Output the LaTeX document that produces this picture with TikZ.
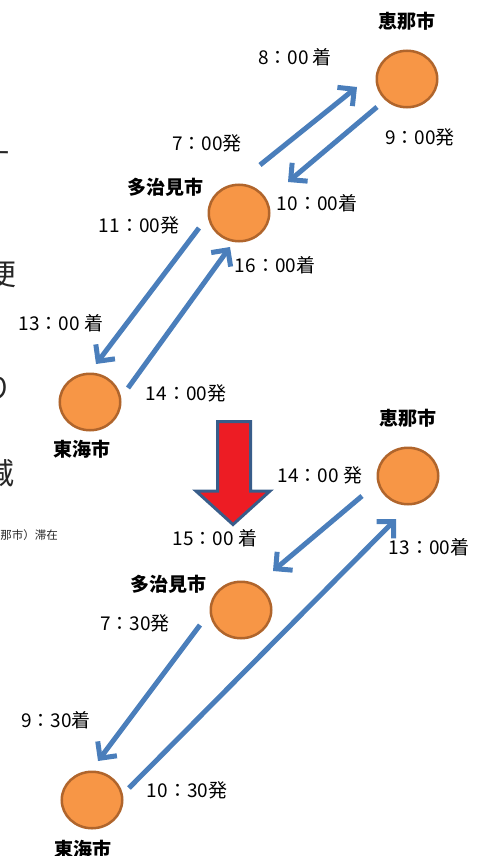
\documentclass[tikz,border=0pt]{standalone}
\usepackage{fontspec}
\newfontfamily\jp{Noto Sans CJK JP}
\usetikzlibrary{arrows.meta,shapes.geometric}
\definecolor{routeblue}{HTML}{4A7EBB}
\definecolor{stfill}{HTML}{F79646}
\definecolor{stborder}{HTML}{B0652C}
\definecolor{bigred}{HTML}{ED1C24}
\definecolor{bignavy}{HTML}{385D8A}
\begin{document}
\begin{tikzpicture}[x=1pt,y=-1pt,
  station/.style={ellipse, draw=stborder, line width=2.5pt, fill=stfill,
    minimum width=60.5pt, minimum height=56.5pt, inner sep=0pt},
  cityname/.style={font=\jp\bfseries\fontsize{19}{19}\selectfont, inner sep=0pt},
  timelbl/.style={font=\jp\fontsize{19}{19}\selectfont, inner sep=0pt},
  sidetext/.style={font=\jp\fontsize{30}{30}\selectfont, inner sep=0pt, anchor=east, text=black!85},
  smalltext/.style={font=\jp\fontsize{11.5}{11.5}\selectfont, inner sep=0pt, anchor=east, text=black!85},
  route/.style={draw=routeblue, line width=5pt, -{Straight Barb[length=12pt,width=24pt]}},
  downarrow/.style={draw=bignavy, line width=3pt, fill=bigred, line join=miter}
]
\useasboundingbox (0,0) rectangle (485,856);

% cut-off text at the left edge
\node[sidetext] (s1) at (11,160) {す};
\node[sidetext] (s2) at (17,274) {便};
\node[sidetext] (s3) at (13,388) {り};
\node[sidetext] (s4) at (15,473) {減};
\node[smalltext] (s5) at (58,535) {（恵那市）滞在};

% ---------- upper diagram ----------
\node[station] (ena1) at (407,79) {};
\node[cityname] (ena1l) at (407,21) {恵那市};
\node[station] (taj1) at (239,213) {};
\node[cityname] (taj1l) at (165,187) {多治見市};
\node[station] (tok1) at (90,402) {};
\node[cityname] (tok1l) at (82,449) {東海市};

\node[timelbl] (t1) at (295,57) {8：00 着};
\node[timelbl] (t2) at (207,143) {7：00発};
\node[timelbl] (t3) at (420,137) {9：00発};
\node[timelbl] (t4) at (317,203) {10：00着};
\node[timelbl] (t5) at (139,225) {11：00発};
\node[timelbl] (t6) at (275,265) {16：00着};
\node[timelbl] (t7) at (61,323) {13：00 着};
\node[timelbl] (t8) at (186,393) {14：00発};

\coordinate (a1s) at (260,165); \coordinate (a1e) at (357,87);
\coordinate (a2s) at (377,107); \coordinate (a2e) at (288,182);
\coordinate (a3s) at (199,228); \coordinate (a3e) at (96,364);
\coordinate (a4s) at (128,388); \coordinate (a4e) at (230,247);
\draw[route] (a1s) -- (a1e);
\draw[route] (a2s) -- (a2e);
\draw[route] (a3s) -- (a3e);
\draw[route] (a4s) -- (a4e);

% ---------- big red arrow ----------
\draw[downarrow] (217.5,421.5) -- (250.5,421.5) -- (250.5,491) -- (270,491)
  -- (233,524.5) -- (196,491) -- (217.5,491) -- cycle;

% ---------- lower diagram ----------
\node[station] (ena2) at (408,476) {};
\node[cityname] (ena2l) at (408,418) {恵那市};
\node[station] (taj2) at (241,610) {};
\node[cityname] (taj2l) at (168,584) {多治見市};
\node[station] (tok2) at (92,800) {};
\node[cityname] (tok2l) at (83,849) {東海市};

\node[timelbl] (u1) at (320,475) {14：00 発};
\node[timelbl] (u2) at (215,538) {15：00 着};
\node[timelbl] (u3) at (429,547) {13：00着};
\node[timelbl] (u4) at (135,623) {7：30発};
\node[timelbl] (u5) at (56,720) {9：30着};
\node[timelbl] (u6) at (187,790) {10：30発};

\coordinate (b1s) at (362,496); \coordinate (b1e) at (273,571);
\coordinate (b2s) at (129,788); \coordinate (b2e) at (396,519);
\coordinate (b3s) at (200,625); \coordinate (b3e) at (98,761);
\draw[route] (b1s) -- (b1e);
\draw[route] (b2s) -- (b2e);
\draw[route] (b3s) -- (b3e);
\end{tikzpicture}
\end{document}
